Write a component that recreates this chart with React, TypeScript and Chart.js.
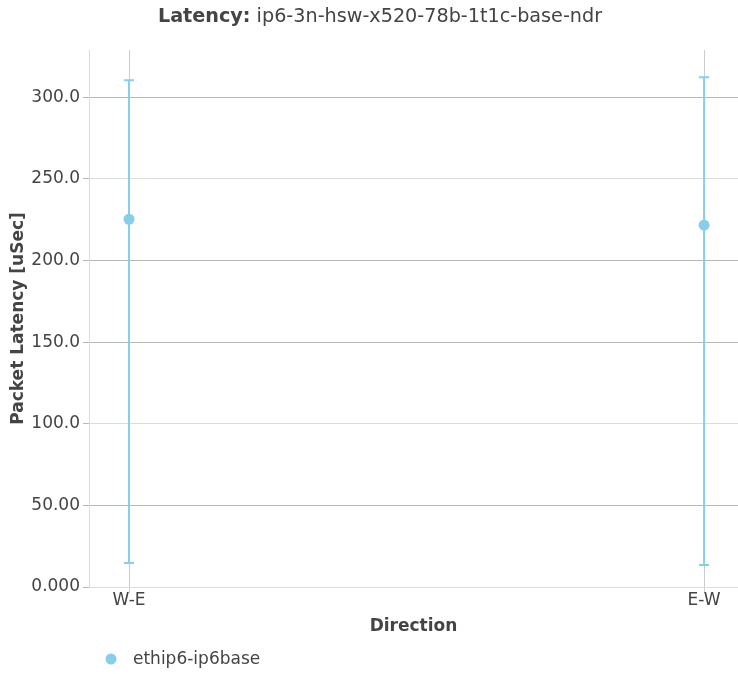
import { useEffect, useRef } from 'react';
import { Chart, registerables } from 'chart.js';

Chart.register(...registerables);

const categories = ['W-E', 'E-W'];
const meanValues = [225.3, 221.7];
const maxValues = [310.4, 312.3];
const minValues = [14.7, 13.5];
const yTicks = [0, 50, 100, 150, 200, 250, 300];
const darkGridTicks = [50, 150, 200, 300];
const seriesName = 'ethip6-ip6base';
const titleBold = 'Latency:';
const titleRest = ' ip6-3n-hsw-x520-78b-1t1c-base-ndr';
const yTitle = 'Packet Latency [uSec]';
const xTitle = 'Direction';

const FONT = 'DejaVu Sans';
const TEXT = '#444444';
const MARK = '#87ceeb';
const FS = 17;
const TFS = 19.2;

function fmt(v: number): string {
  if (v === 0) return '0.000';
  if (v < 100) return v.toFixed(2);
  return v.toFixed(1);
}

const errorBarPlugin = {
  id: 'errorBars',
  beforeDatasetsDraw(chart: any) {
    const { ctx, scales } = chart;
    const xs = scales.x;
    const ys = scales.y;
    ctx.save();
    ctx.strokeStyle = MARK;
    ctx.lineWidth = 2;
    categories.forEach((_, i) => {
      const x = xs.getPixelForValue(i);
      const yTop = ys.getPixelForValue(maxValues[i]);
      const yBot = ys.getPixelForValue(minValues[i]);
      ctx.beginPath();
      ctx.moveTo(x, yTop);
      ctx.lineTo(x, yBot);
      ctx.moveTo(x - 5, yTop);
      ctx.lineTo(x + 5, yTop);
      ctx.moveTo(x - 5, yBot);
      ctx.lineTo(x + 5, yBot);
      ctx.stroke();
    });
    ctx.restore();
  },
};

const textPlugin = {
  id: 'texts',
  afterDraw(chart: any) {
    const { ctx } = chart;
    ctx.save();
    ctx.fillStyle = TEXT;
    ctx.textBaseline = 'middle';
    ctx.textAlign = 'left';
    ctx.font = `bold ${TFS}px "${FONT}"`;
    const wb = ctx.measureText(titleBold).width;
    ctx.font = `${TFS}px "${FONT}"`;
    const wr = ctx.measureText(titleRest).width;
    const start = 380 - (wb + wr) / 2;
    ctx.font = `bold ${TFS}px "${FONT}"`;
    ctx.fillText(titleBold, start, 17);
    ctx.font = `${TFS}px "${FONT}"`;
    ctx.fillText(titleRest, start + wb, 17);

    // legend
    ctx.fillStyle = MARK;
    ctx.beginPath();
    ctx.arc(111, 659, 5.5, 0, Math.PI * 2);
    ctx.fill();
    ctx.fillStyle = TEXT;
    ctx.font = `${FS}px "${FONT}"`;
    ctx.fillText(seriesName, 133, 660);
    ctx.restore();
  },
};

export default function App() {
  const ref = useRef<HTMLCanvasElement>(null);
  useEffect(() => {
    if (!ref.current) return;
    const chart = new Chart(ref.current, {
      type: 'scatter',
      data: {
        datasets: [
          {
            label: seriesName,
            data: categories.map((_, i) => ({ x: i, y: meanValues[i] })),
            backgroundColor: MARK,
            borderColor: MARK,
            borderWidth: 0,
            pointRadius: 5.5,
            pointHoverRadius: 5.5,
          },
        ],
      },
      options: {
        animation: false,
        responsive: false,
        maintainAspectRatio: false,
        layout: { autoPadding: false, padding: { top: 50, left: 0, right: 0, bottom: 0 } },
        plugins: {
          legend: { display: false },
          title: { display: false },
          tooltip: { enabled: false },
        },
        scales: {
          x: {
            type: 'linear',
            min: -0.0696,
            max: 1.059,
            afterBuildTicks: (scale: any) => {
              scale.ticks = categories.map((_, i) => ({ value: i }));
            },
            afterFit: (scale: any) => {
              scale.height = 87;
              scale.paddingLeft = 0;
              scale.paddingRight = 0;
            },
            ticks: {
              autoSkip: false,
              maxRotation: 0,
              padding: -3,
              color: TEXT,
              font: { family: FONT, size: FS },
              callback: (v: any) => categories[v] ?? '',
            },
            grid: {
              color: '#cccccc',
              lineWidth: 1,
              tickLength: 6,
              drawOnChartArea: true,
            },
            border: { display: false },
            title: {
              display: true,
              text: xTitle,
              color: TEXT,
              font: { family: FONT, size: FS, weight: 'bold' },
              padding: { top: 0, bottom: 37 },
            },
          },
          y: {
            type: 'linear',
            min: 0,
            max: 329,
            afterBuildTicks: (scale: any) => {
              scale.ticks = yTicks.map((v) => ({ value: v }));
            },
            afterFit: (scale: any) => {
              scale.width = 89;
              scale.paddingTop = 0;
              scale.paddingBottom = 0;
            },
            ticks: {
              padding: 3,
              color: TEXT,
              font: { family: FONT, size: FS },
              callback: (v: any) => fmt(Number(v)),
            },
            grid: {
              color: (c: any) =>
                darkGridTicks.includes(c.tick?.value) ? '#b8b8b8' : '#dcdcdc',
              tickColor: '#b8b8b8',
              lineWidth: 1,
              tickLength: 6,
            },
            border: { display: true, color: '#dcdcdc' },
            title: {
              display: true,
              text: yTitle,
              color: TEXT,
              font: { family: FONT, size: FS, weight: 'bold' },
              padding: { top: 8.5, bottom: 0 },
            },
          },
        },
      },
      plugins: [errorBarPlugin, textPlugin],
    });
    return () => chart.destroy();
  }, []);
  return (
    <div style={{ position: 'absolute', left: 0, top: 0, width: 738, height: 674 }}>
      <canvas ref={ref} width={738} height={674} style={{ display: 'block' }} />
    </div>
  );
}
